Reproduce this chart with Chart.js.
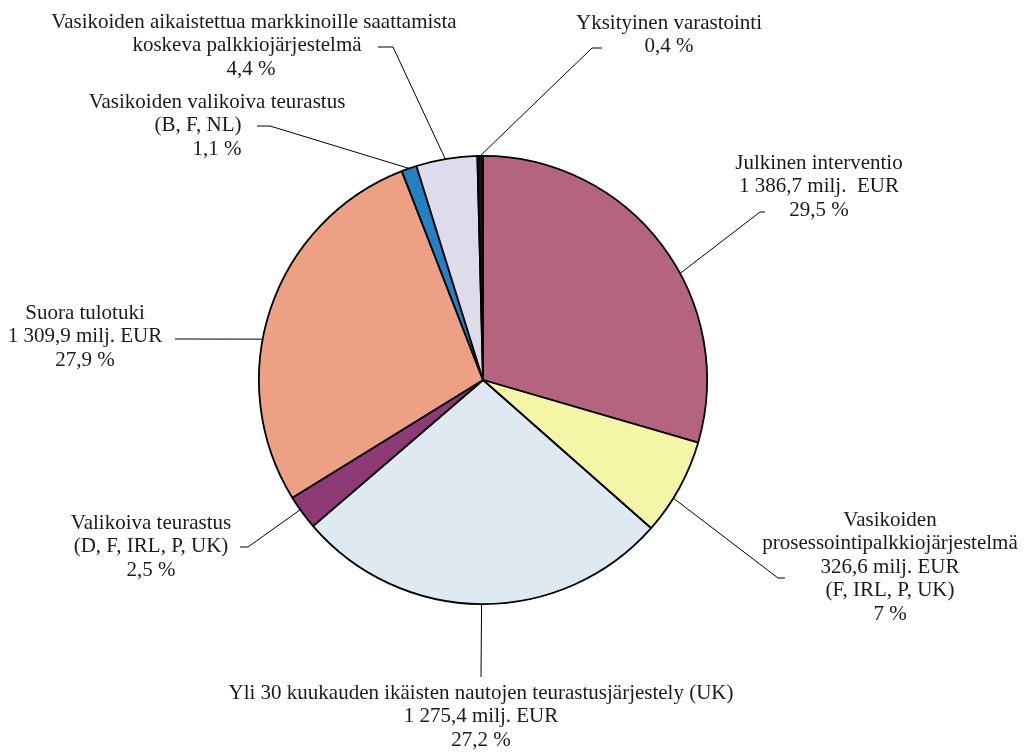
<!DOCTYPE html>
<html>
<head>
<meta charset="utf-8">
<script src="https://cdn.jsdelivr.net/npm/chart.js@4.4.1/dist/chart.umd.min.js"></script>
<style>
  html, body { margin:0; padding:0; background:#fff; }
  #wrap { width:1026px; height:753px; position:relative; }
</style>
</head>
<body>
<div id="wrap"><canvas id="pieChart" width="1026" height="753"></canvas></div>
<script>
// tiedot
const categories = [
  'Julkinen interventio',
  'Vasikoiden prosessointipalkkiojärjestelmä',
  'Yli 30 kuukauden ikäisten nautojen teurastusjärjestely (UK)',
  'Valikoiva teurastus',
  'Suora tulotuki',
  'Vasikoiden valikoiva teurastus',
  'Vasikoiden aikaistettua markkinoille saattamista koskeva palkkiojärjestelmä',
  'Yksityinen varastointi'
];
const shares = [29.5, 7, 27.2, 2.5, 27.9, 1.1, 4.4, 0.4];
const shareLabels = ['29,5 %', '7 %', '27,2 %', '2,5 %', '27,9 %', '1,1 %', '4,4 %', '0,4 %'];
const amountLabels = ['1 386,7 milj.  EUR', '326,6 milj. EUR', '1 275,4 milj. EUR', null, '1 309,9 milj. EUR', null, null, null];
const countries = [null, '(F, IRL, P, UK)', null, '(D, F, IRL, P, UK)', null, '(B, F, NL)', null, null];
const colors = ['#B4647F', '#F5F5A8', '#DFE9F1', '#8D3A77', '#EDA083', '#2280C3', '#DEDCEA', '#111111'];

// nimien rivitys
const nameLines = [
  ['Julkinen interventio'],
  ['Vasikoiden', 'prosessointipalkkiojärjestelmä'],
  ['Yli 30 kuukauden ikäisten nautojen teurastusjärjestely (UK)'],
  ['Valikoiva teurastus'],
  ['Suora tulotuki'],
  ['Vasikoiden valikoiva teurastus'],
  ['Vasikoiden aikaistettua markkinoille saattamista', 'koskeva palkkiojärjestelmä'],
  ['Yksityinen varastointi']
];

// tekstien ja viivojen sijoittelu
const layout = [
  { x:819, y:163, frac:0.58, line:[[765,212],[760,212]] },
  { x:890, y:520, frac:0.62, line:[[785,578],[778,578]] },
  { x:481, y:693, frac:0.5,  line:[[481,677]] },
  { x:151, y:523, frac:0.59, line:[[240,547],[248,547]] },
  { x:85,  y:313, frac:0.42, line:[[175,339]] },
  { x:217, y:102, frac:0.5,  line:[[257,126],[270,126]], dx:[0,-19,0] },
  { x:251, y:22,  frac:0.48, line:[[378,47],[393,47]], dx:[3,-4,0] },
  { x:669, y:23,  frac:0.5,  line:[[602,48],[592,48]] }
];

const FONT = '21px "Liberation Serif", "DejaVu Serif", serif';
const LINE_H = 23.6;

const labelPlugin = {
  id:'leaderLabels',
  afterDraw(chart){
    const ctx = chart.ctx;
    const arcs = chart.getDatasetMeta(0).data;
    ctx.save();
    ctx.font = FONT;
    ctx.fillStyle = '#1a1a1a';
    ctx.strokeStyle = '#000';
    ctx.lineWidth = 1;
    ctx.textAlign = 'center';
    ctx.textBaseline = 'middle';
    arcs.forEach((arc, i) => {
      const L = layout[i];
      const a = arc.startAngle + L.frac * (arc.endAngle - arc.startAngle);
      const ex = arc.x + arc.outerRadius * Math.cos(a);
      const ey = arc.y + arc.outerRadius * Math.sin(a);
      ctx.beginPath();
      ctx.moveTo(L.line[0][0], L.line[0][1]);
      for (let k = 1; k < L.line.length; k++) ctx.lineTo(L.line[k][0], L.line[k][1]);
      ctx.lineTo(ex, ey);
      ctx.stroke();

      const lines = nameLines[i].slice();
      if (amountLabels[i]) lines.push(amountLabels[i]);
      if (countries[i]) lines.push(countries[i]);
      lines.push(shareLabels[i]);
      lines.forEach((t, k) => {
        const dx = L.dx ? (L.dx[k] || 0) : 0;
        ctx.fillText(t, L.x + dx, L.y + k * LINE_H);
      });
    });
    ctx.restore();
  }
};

new Chart(document.getElementById('pieChart').getContext('2d'), {
  type:'pie',
  data:{
    labels: categories,
    datasets:[{
      data: shares,
      backgroundColor: colors,
      borderColor:'#000',
      borderWidth:1.8
    }]
  },
  options:{
    responsive:false,
    animation:false,
    layout:{ padding:{ left:258, top:155, right:318, bottom:148 } },
    plugins:{ legend:{ display:false }, tooltip:{ enabled:false } }
  },
  plugins:[labelPlugin]
});
</script>
</body>
</html>
